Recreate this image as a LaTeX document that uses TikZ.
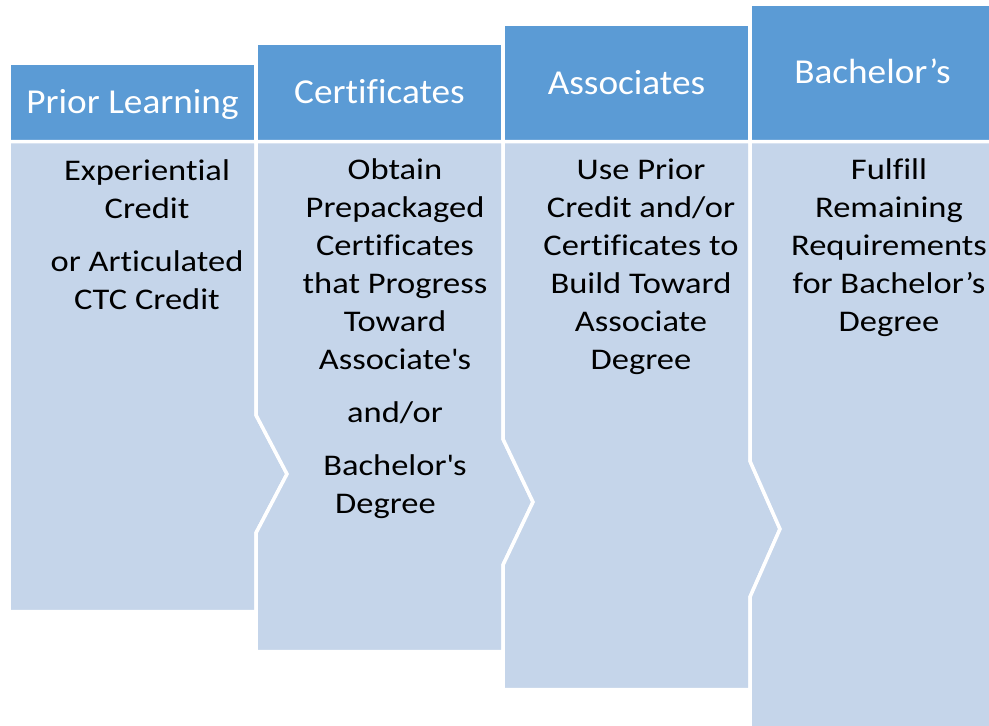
\documentclass[tikz,border=0pt]{standalone}
\usepackage{fontspec}
\setmainfont{Carlito}
\newfontfamily\hdrfont[FakeStretch=1.065,Ligatures=NoCommon]{Carlito}
\newfontfamily\bdyfont[FakeStretch=1.15,Ligatures=NoCommon]{Carlito}
\definecolor{hdr}{HTML}{5B9BD5}
\definecolor{bdy}{HTML}{C5D5EA}
\begin{document}
\begin{tikzpicture}[x=1pt,y=-1pt,
  hdrbox/.style={fill=hdr,draw=white,line width=3.5pt},
  bdybox/.style={fill=bdy,draw=white,line width=3.5pt,line join=miter},
  hdrtext/.style={text=white,font=\hdrfont\fontsize{35}{42}\selectfont,anchor=base,inner sep=0pt},
  bdytext/.style={text=black,font=\bdyfont\fontsize{30}{38}\selectfont,anchor=base,inner sep=0pt}]
\useasboundingbox (0,0) rectangle (989,726);
\clip (0,0) rectangle (989,726);
% headers
\path[hdrbox] (9,63.5) rectangle (256,141.5);
\path[hdrbox] (256,43.5) rectangle (503,141.5);
\path[hdrbox] (503,24.5) rectangle (750,141.5);
\path[hdrbox] (750,4.5) rectangle (1000,141.5);
% bodies
\path[bdybox] (9,141.5) -- (256,141.5) -- (256,415) -- (287,474) -- (256,533) -- (256,611.5) -- (9,611.5) -- cycle;
\path[bdybox] (256,141.5) -- (503,141.5) -- (503,439) -- (533,502) -- (503,565) -- (503,651.5) -- (256,651.5) -- (256,533) -- (287,474) -- (256,415) -- cycle;
\path[bdybox] (503,141.5) -- (750,141.5) -- (750,461) -- (780,529) -- (750,597) -- (750,689.5) -- (503,689.5) -- (503,565) -- (533,502) -- (503,439) -- cycle;
\path[bdybox] (750,141.5) -- (1000,141.5) -- (1000,740) -- (750,740) -- (750,597) -- (780,529) -- (750,461) -- cycle;
% header texts
\node[hdrtext] (h1) at (132.5,113) {Prior Learning};
\node[hdrtext] (h2) at (379.5,103.5) {Certificates};
\node[hdrtext] (h3) at (626.5,94) {Associates};
\node[hdrtext] (h4) at (872.5,83.5) {Bachelor’s};
% body texts
\node[bdytext] (b1) at (147,180) {\begin{tabular}[t]{@{}c@{}}Experiential\\Credit\\[15pt]or Articulated\\CTC Credit\end{tabular}};
\node[bdytext] (b2) at (395,179) {\begin{tabular}[t]{@{}c@{}}Obtain\\Prepackaged\\Certificates\\that Progress\\Toward\\Associate\textquotesingle s\\[15pt]and/or\\[15pt]Bachelor\textquotesingle s\\Degree\hspace*{19pt}\end{tabular}};
\node[bdytext] (b3) at (641,179) {\begin{tabular}[t]{@{}c@{}}Use Prior\\Credit and/or\\Certificates to\\Build Toward\\Associate\\Degree\end{tabular}};
\node[bdytext] (b4) at (889,179) {\begin{tabular}[t]{@{}c@{}}Fulfill\\Remaining\\Requirements\\for Bachelor’s\\Degree\end{tabular}};
\end{tikzpicture}
\end{document}
